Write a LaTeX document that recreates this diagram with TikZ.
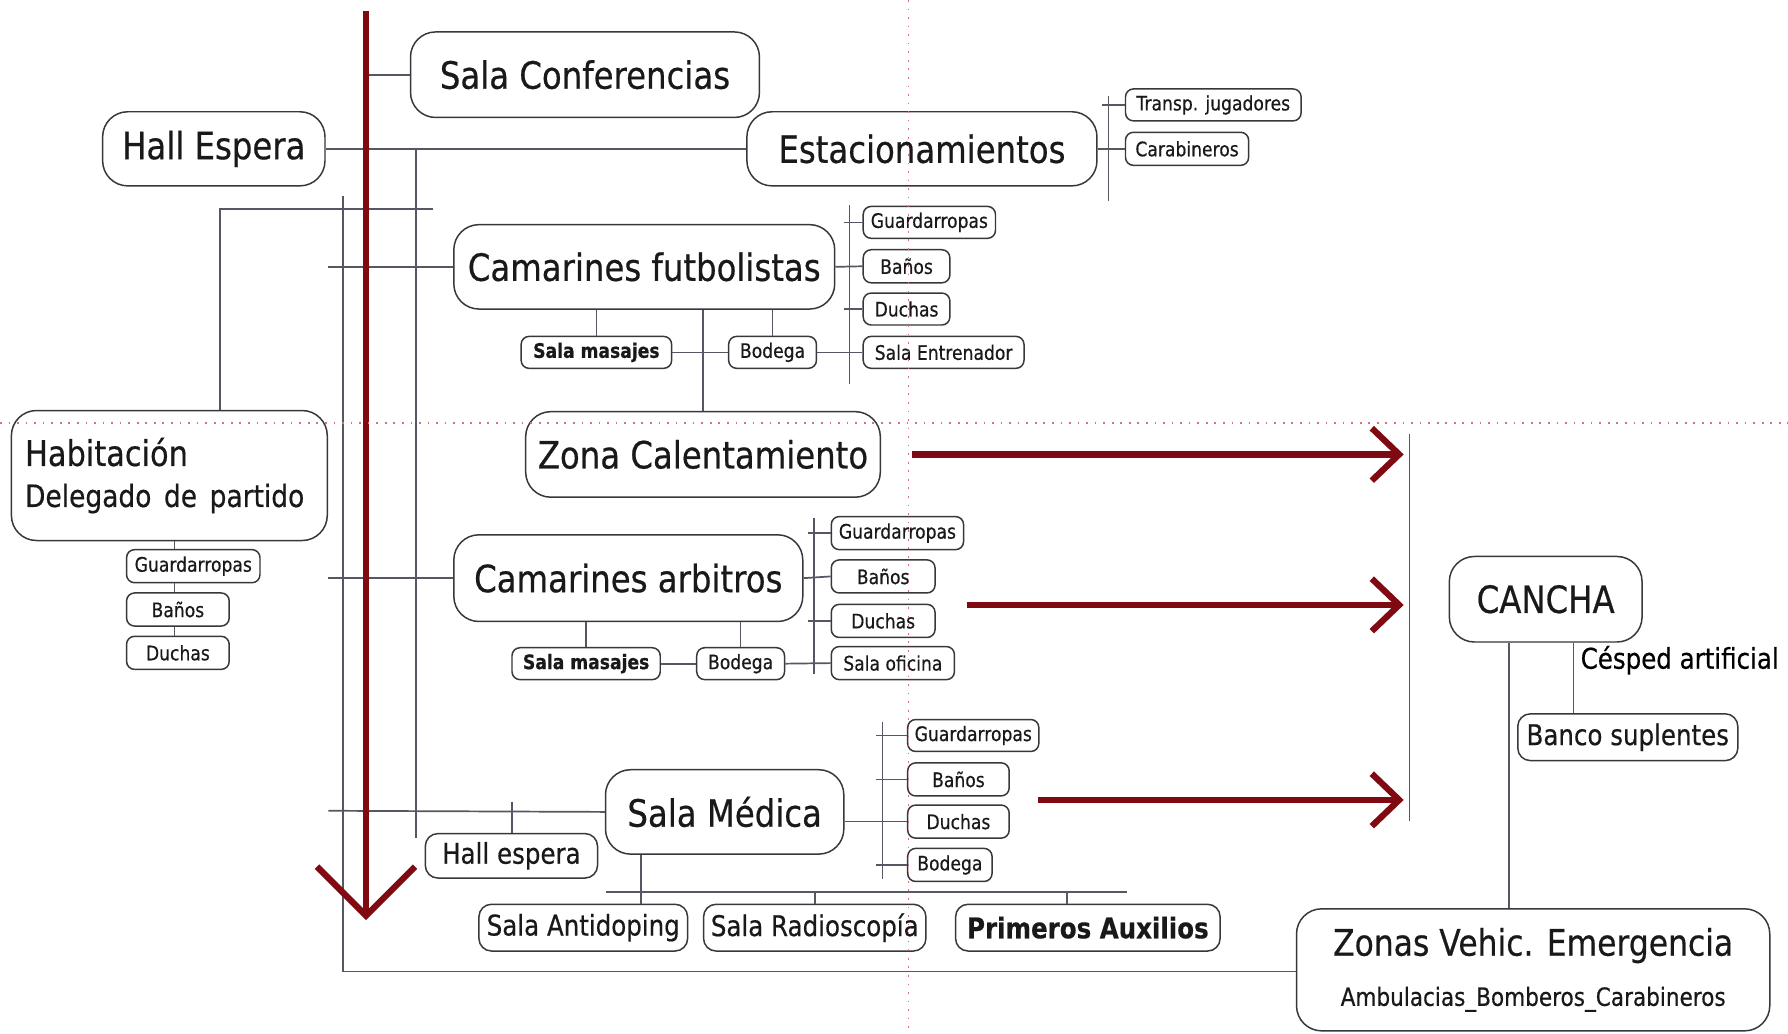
\documentclass[tikz,border=0pt]{standalone}
\usepackage{fontspec}
\setmainfont{DejaVu Sans}[FakeStretch=0.86, FakeBold=0.5]
\usetikzlibrary{calc}
\definecolor{boxc}{RGB}{55,55,60}
\definecolor{linec}{RGB}{85,88,98}
\definecolor{redc}{RGB}{128,10,18}
\definecolor{pinkc}{RGB}{215,110,130}
\tikzset{
  box/.style={draw=boxc, line width=1.3pt, fill=white, inner sep=0pt, align=center, text=black!90},
  sz/.style 2 args={minimum width=#1, minimum height=#2},
  big/.style={box, rounded corners=22pt, font=\fontsize{33}{38}\selectfont},
  mid/.style={box, rounded corners=11pt, font=\fontsize{25}{30}\selectfont},
  small/.style={box, rounded corners=7pt, font=\fontsize{17.5}{20}\selectfont},
  conn/.style={draw=linec, line width=1.5pt},
  redl/.style={draw=redc, line width=5.5pt},
  guide/.style={draw=pinkc, line width=1.1pt, dash pattern=on 1.5pt off 6pt},
}
\begin{document}
\begin{tikzpicture}[x=1pt,y=-1pt]
\useasboundingbox (0,0) rectangle (1568,906);
\fill[white] (0,0) rectangle (1568,906);

% ---------- main boxes ----------
\node[big, sz={306}{75}] (sc) at (513,65.5) {Sala Conferencias};
\node[big, sz={195}{65}] (hall) at (187.5,130.5) {Hall Espera};
\node[big, sz={307}{65}] (est) at (808.5,130.5) {Estacionamientos};
\node[big, sz={334}{74}] (cf) at (565,234) {Camarines futbolistas};
\node[big, sz={311}{75}] (zc) at (616.5,398.5) {Zona Calentamiento};
\node[big, sz={277}{114}, text width=253pt, align=left] (hab) at (148.5,417)
  {{\fontsize{31}{38}\selectfont Habitación}\\[-2pt]{\fontsize{27}{36}\selectfont Delegado de partido}};
\node[big, sz={306}{76}] (ca) at (551,507) {Camarines arbitros};
\node[big, sz={209}{74}] (sm) at (635.5,712) {Sala Médica};
\node[big, sz={169}{75}] (cancha) at (1355.5,525.5) {CANCHA};
\node[big, sz={415}{107}] (zonas) at (1344.5,850.5)
  {{\fontsize{32}{38}\selectfont Zonas Vehic. Emergencia}\\[6pt]{\fontsize{22}{26}\selectfont Ambulacias\_Bomberos\_Carabineros}};

% ---------- medium boxes ----------
\node[mid, sz={151}{39}] (he2) at (448.5,750.5) {Hall espera};
\node[mid, sz={183}{41}] (sad) at (511.5,813.5) {Sala Antidoping};
\node[mid, sz={195}{41}] (srad) at (714.5,813.5) {Sala Radioscopía};
\node[mid, sz={232}{41}, font=\fontsize{25}{30}\selectfont\bfseries] (pa) at (954,813.5) {Primeros Auxilios};
\node[mid, sz={193}{41}] (banco) at (1427.5,646.5) {Banco suplentes};
\node[anchor=west, inner sep=0pt, font=\fontsize{25}{30}\selectfont] (cesped) at (1386,579) {Césped artificial};

% ---------- small boxes ----------
\node[small, sz={154}{28}] (tj) at (1064,92) {Transp. jugadores};
\node[small, sz={108}{29}] (carab) at (1041,130.5) {Carabineros};

\node[small, sz={116}{28}] (cfg) at (815,195) {Guardarropas};
\node[small, sz={76}{29}] (cfb) at (795,233.5) {Baños};
\node[small, sz={76}{28}] (cfd) at (795,271) {Duchas};
\node[small, sz={141}{28}] (cfse) at (827.5,309) {Sala Entrenador};
\node[small, sz={132}{28}, font=\fontsize{17.5}{20}\selectfont\bfseries] (cfsm) at (523,309) {Sala masajes};
\node[small, sz={77}{28}] (cfbo) at (677.5,309) {Bodega};

\node[small, sz={117}{29}] (habg) at (169.5,496.5) {Guardarropas};
\node[small, sz={90}{29}] (habb) at (156,534.5) {Baños};
\node[small, sz={90}{29}] (habd) at (156,572.5) {Duchas};

\node[small, sz={116}{29}] (cag) at (787,467.5) {Guardarropas};
\node[small, sz={91}{29}] (cab) at (774.5,505.5) {Baños};
\node[small, sz={91}{29}] (cad) at (774.5,544.5) {Duchas};
\node[small, sz={108}{29}] (caso) at (783,581.5) {Sala oficina};
\node[small, sz={130}{28}, font=\fontsize{17.5}{20}\selectfont\bfseries] (casm) at (514,582) {Sala masajes};
\node[small, sz={77}{28}] (cabo) at (649.5,582) {Bodega};

\node[small, sz={115}{28}] (smg) at (853.5,645) {Guardarropas};
\node[small, sz={89}{29}] (smb) at (840.5,683.5) {Baños};
\node[small, sz={89}{29}] (smd) at (840.5,720.5) {Duchas};
\node[small, sz={74}{29}] (smbo) at (833,758.5) {Bodega};

% ---------- trunk coordinates ----------
\coordinate (redtop) at (321,10);
\coordinate (redbot) at (321,803);
\coordinate (confl) at (323,65.5);
\coordinate (t365a) at (365,130.5);
\coordinate (t365b) at (365,735);
\coordinate (t301a) at (301,172);
\coordinate (t301b) at (301,852);
\coordinate (h183a) at (193,183);
\coordinate (h183b) at (380,183);
\coordinate (lcf) at (288,234);
\coordinate (lca) at (288,507);
\coordinate (lsm) at (288,711);
\coordinate (t745a) at (745,180);
\coordinate (t745b) at (745,337);
\coordinate (t972a) at (972,84);
\coordinate (t972b) at (972,176);
\coordinate (t714a) at (714,454);
\coordinate (t714b) at (714,591);
\coordinate (t774a) at (774,633);
\coordinate (t774b) at (774,771);
\coordinate (h782a) at (531,782);
\coordinate (h782b) at (988,782);
\coordinate (t1236a) at (1236,381);
\coordinate (t1236b) at (1236,720);

% ---------- gray connectors ----------
\draw[conn] (confl) -- (sc.west);
\draw[conn] (hall.east) -- (est.west);
\draw[conn] (t365a) -- (t365b);
\draw[conn] (h183b) -- (h183a) -- (hab.north -| h183a);
\draw[conn] (t301a) -- (t301b) -- (zonas.west |- t301b);
\draw[conn] (lcf) -- (cf.west);
\draw[conn] (lca) -- (ca.west);
\draw[conn] (lsm) -- (sm.west);

% Estacionamientos
\draw[conn] (t972a) -- (t972b);
\draw[conn] (est.east) -- (carab.west);
\draw[conn] (tj.west) -- ++(-20,0);

% Camarines futbolistas
\draw[conn] (t745a) -- (t745b);
\draw[conn] (cf.east) -- (cfb.west);
\draw[conn] (cfg.west) -- ++(-16,0);
\draw[conn] (cfd.west) -- ++(-16,0);
\draw[conn] (cfbo.east) -- (cfse.west);
\draw[conn] (cfsm.east) -- (cfbo.west);
\draw[conn] (cf.south -| cfsm.north) -- (cfsm.north);
\draw[conn] (cf.south -| cfbo.north) -- (cfbo.north);
\draw[conn] (cf.south -| zc.north) -- (zc.north);

% Habitacion
\draw[conn] (hab.south -| 153,0) -- (habg.north -| 153,0);
\draw[conn] (habg.south -| 153,0) -- (habb.north -| 153,0);
\draw[conn] (habb.south -| 153,0) -- (habd.north -| 153,0);

% Camarines arbitros
\draw[conn] (t714a) -- (t714b);
\draw[conn] (ca.east) -- (cab.west);
\draw[conn] (cag.west) -- ++(-20,0);
\draw[conn] (cad.west) -- ++(-20,0);
\draw[conn] (cabo.east) -- (caso.west);
\draw[conn] (casm.east) -- (cabo.west);
\draw[conn] (ca.south -| casm.north) -- (casm.north);
\draw[conn] (ca.south -| cabo.north) -- (cabo.north);

% Sala Medica
\draw[conn] (t774a) -- (t774b);
\draw[conn] (smd.west -| sm.east) -- (smd.west);
\draw[conn] (smg.west) -- ++(-27,0);
\draw[conn] (smb.west) -- ++(-27,0);
\draw[conn] (smbo.west) -- ++(-27,0);
\draw[conn] (449,703) -- (he2.north -| 449,0);
\draw[conn] (sm.south -| 562,0) -- (sad.north -| 562,0);
\draw[conn] (h782a) -- (h782b);
\draw[conn] (h782a -| srad.north) -- (srad.north);
\draw[conn] (h782a -| 936,0) -- (pa.north -| 936,0);

% Cancha
\draw[conn] (t1236a) -- (t1236b);
\draw[conn] (cancha.south -| 1323,0) -- (zonas.north -| 1323,0);
\draw[conn] (cancha.south -| 1380,0) -- (banco.north -| 1380,0);

% ---------- red arrows ----------
\draw[redl] (redtop) -- (redbot);
\draw[redl, line join=miter] (278,760) -- (redbot) -- (364,760);

\coordinate (a1s) at (800,398.5); \coordinate (a1e) at (1227,398.5);
\coordinate (a2s) at (848,530.5); \coordinate (a2e) at (1227,530.5);
\coordinate (a3s) at (910,701.5); \coordinate (a3e) at (1227,701.5);
\draw[redl] (a1s) -- (a1e);
\draw[redl] (a2s) -- (a2e);
\draw[redl] (a3s) -- (a3e);
\draw[redl, line join=miter] ($(a1e)+(-24,-23)$) -- (a1e) -- ($(a1e)+(-24,23)$);
\draw[redl, line join=miter] ($(a2e)+(-24,-23)$) -- (a2e) -- ($(a2e)+(-24,23)$);
\draw[redl, line join=miter] ($(a3e)+(-24,-23)$) -- (a3e) -- ($(a3e)+(-24,23)$);

% ---------- guides ----------
\draw[guide] (797,0) -- (797,906);
\draw[guide] (0,371) -- (1568,371);
\end{tikzpicture}
\end{document}
